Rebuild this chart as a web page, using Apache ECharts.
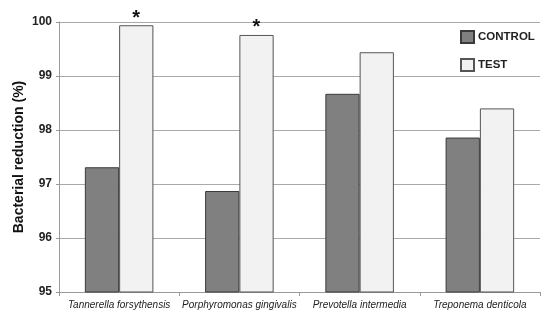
<!DOCTYPE html>
<html><head><meta charset="utf-8">
<script src="https://cdn.jsdelivr.net/npm/echarts@6/dist/echarts.min.js"></script>
<style>html,body{margin:0;padding:0;background:#fff}#c{width:550px;height:321px}</style>
</head><body><div id="c"></div>
<script>
var categories = ['Tannerella forsythensis','Porphyromonas gingivalis','Prevotella intermedia','Treponema denticola'];
var controlValues = [97.31, 96.87, 98.67, 97.86];
var testValues = [99.94, 99.76, 99.44, 98.40];
var significance = ['*','*','',''];
var yTicks = [95, 96, 97, 98, 99, 100];

var chart = echarts.init(document.getElementById('c'));
chart.setOption({
  animation: false,
  backgroundColor: '#fff',
  grid: {left: 59, right: 10, top: 22, bottom: 29},
  legend: {
    orient: 'vertical', left: 460, top: 30, padding: 0, itemWidth: 13, itemHeight: 12, itemGap: 14,
    icon: 'rect',
    textStyle: {fontFamily: 'Liberation Sans', fontWeight: 'bold', fontSize: 11.5, color: '#222', padding: [0,0,0,-1]},
    data: ['CONTROL','TEST']
  },
  xAxis: {
    type: 'category', data: categories,
    axisLine: {lineStyle: {color: '#999'}},
    axisTick: {show: true, length: 4, lineStyle: {color: '#999'}},
    axisLabel: {fontFamily: 'Liberation Sans', fontStyle: 'italic', fontSize: 10, color: '#222', margin: 8, interval: 0}
  },
  yAxis: {
    type: 'value', min: yTicks[0], max: yTicks[yTicks.length-1], interval: 1,
    name: 'Bacterial reduction (%)', nameLocation: 'middle', nameGap: 33, nameMoveOverlap: false,
    nameTextStyle: {fontFamily: 'Liberation Sans', fontWeight: 'bold', fontSize: 14, color: '#111'},
    axisLine: {show: true, lineStyle: {color: '#999'}},
    axisTick: {show: true, length: 3, lineStyle: {color: '#999'}},
    axisLabel: {fontFamily: 'Liberation Sans', fontWeight: 'bold', fontSize: 12, color: '#222', margin: 7},
    splitLine: {lineStyle: {color: '#aaa'}}
  },
  series: [
    {name: 'CONTROL', type: 'bar', data: controlValues, barGap: '0%', barCategoryGap: '43%',
     itemStyle: {color: '#808080', borderColor: '#3a3a3a', borderWidth: 1}},
    {name: 'TEST', type: 'bar', data: testValues,
     itemStyle: {color: '#f2f2f2', borderColor: '#555', borderWidth: 1},
     label: {show: true, position: 'top', distance: -3,
       formatter: function(p){ return significance[p.dataIndex]; },
       fontFamily: 'Liberation Sans', fontWeight: 'bold', fontSize: 20, color: '#111'}}
  ]
});
</script></body></html>
